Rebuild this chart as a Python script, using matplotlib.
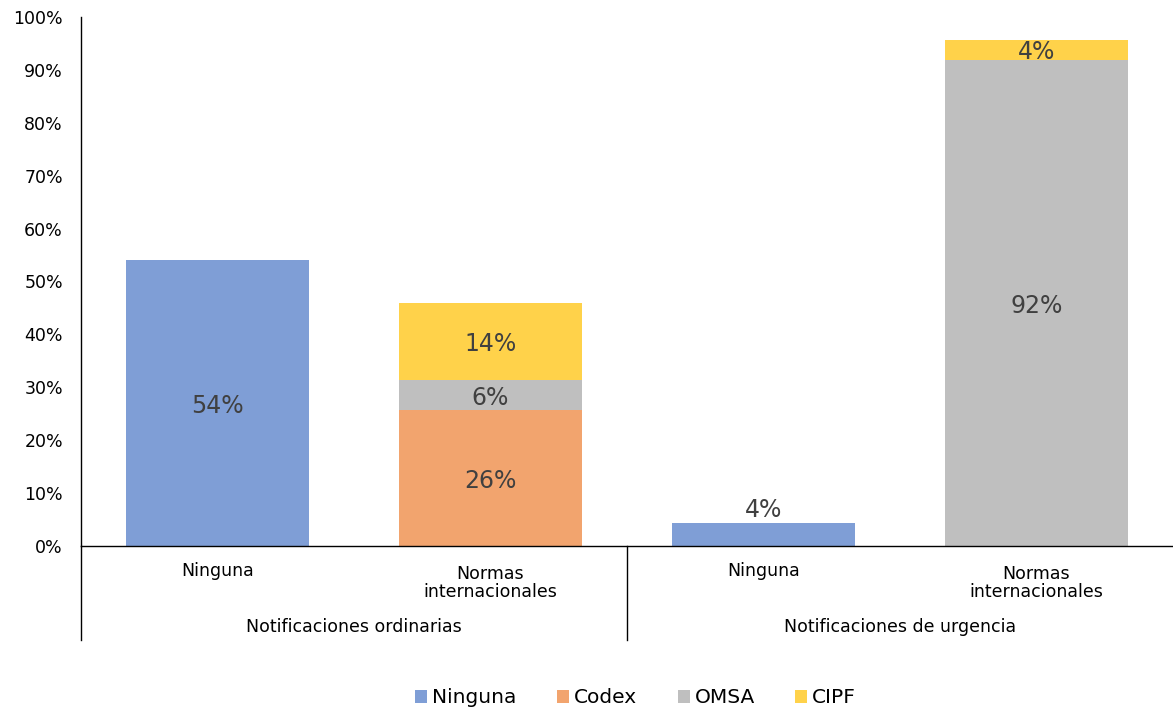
import matplotlib
matplotlib.use("Agg")
import matplotlib.pyplot as plt
from matplotlib.patches import Patch
import numpy as np

plt.rcParams['font.family'] = ['DejaVu Sans']

# datos (%)
categorias = ["Ninguna", "Normas\ninternacionales", "Ninguna", "Normas\ninternacionales"]
grupos = ["Notificaciones ordinarias", "Notificaciones de urgencia"]
series = ["Ninguna", "Codex", "OMSA", "CIPF"]
ninguna = [54.1, 0, 4.3, 0]
codex = [0, 25.7, 0, 0]
omsa = [0, 5.7, 0, 91.9]
cipf = [0, 14.5, 0, 3.8]
colores = ["#7F9ED6", "#F2A46E", "#BFBFBF", "#FFD24A"]

fig = plt.figure(figsize=(11.73, 7.1), dpi=100)
ax = fig.add_axes([81/1173, (710-546)/710, 1-81/1173, (546-17)/710])

x = np.arange(len(categorias))
base = np.zeros(len(categorias))
for nombre, vals, col in zip(series, [ninguna, codex, omsa, cipf], colores):
    vals = np.array(vals, dtype=float)
    ax.bar(x, vals, bottom=base, width=0.667, color=col, label=nombre)
    for i, v in enumerate(vals):
        if v <= 0:
            continue
        if v < 5 and base[i] == 0:
            # etiqueta sobre la barra pequena
            ax.text(x[i], base[i] + v + 0.3, "%d%%" % round(v), ha="center", va="bottom",
                    fontsize=17, color="#404040")
        else:
            ax.text(x[i], base[i] + v/2 - 0.5, "%d%%" % round(v), ha="center", va="center",
                    fontsize=17, color="#404040")
    base += vals

ax.set_xlim(-0.5, 3.5)
ax.set_ylim(0, 100)
ax.set_yticks(np.arange(0, 101, 10))
ax.set_yticklabels(["%d%%" % t for t in range(0, 101, 10)], fontsize=12.5)
ax.tick_params(axis="y", length=0, pad=13)
ax.tick_params(axis="x", length=0)
ax.set_xticks([])
for s in ["top", "right"]:
    ax.spines[s].set_visible(False)
ax.spines["left"].set_linewidth(1.0)
ax.spines["bottom"].set_linewidth(1.0)

# etiquetas de categoria y grupo
trans = ax.get_xaxis_transform()
for i, c in enumerate(categorias):
    yy = -0.031 if "\n" not in c else -0.035
    ax.text(x[i], yy, c, transform=trans, ha="center", va="top", fontsize=12.5,
            linespacing=1.05)
for g, xc in zip(grupos, [0.5, 2.5]):
    ax.text(xc, -0.137, g, transform=trans, ha="center", va="top", fontsize=12.5)
for xs in [-0.5, 1.5]:
    ax.plot([xs, xs], [0, -0.178], transform=trans, color="black", lw=1.0, clip_on=False)

handles = [Patch(facecolor=c, label=s) for s, c in zip(series, colores)]
fig.legend(handles=handles, loc="center", bbox_to_anchor=(0.542, 0.017), ncol=4,
           frameon=False, fontsize=14.5, handlelength=0.6, handleheight=0.6,
           handletextpad=0.25, columnspacing=2.0)

fig.savefig("out.png", dpi=100)
